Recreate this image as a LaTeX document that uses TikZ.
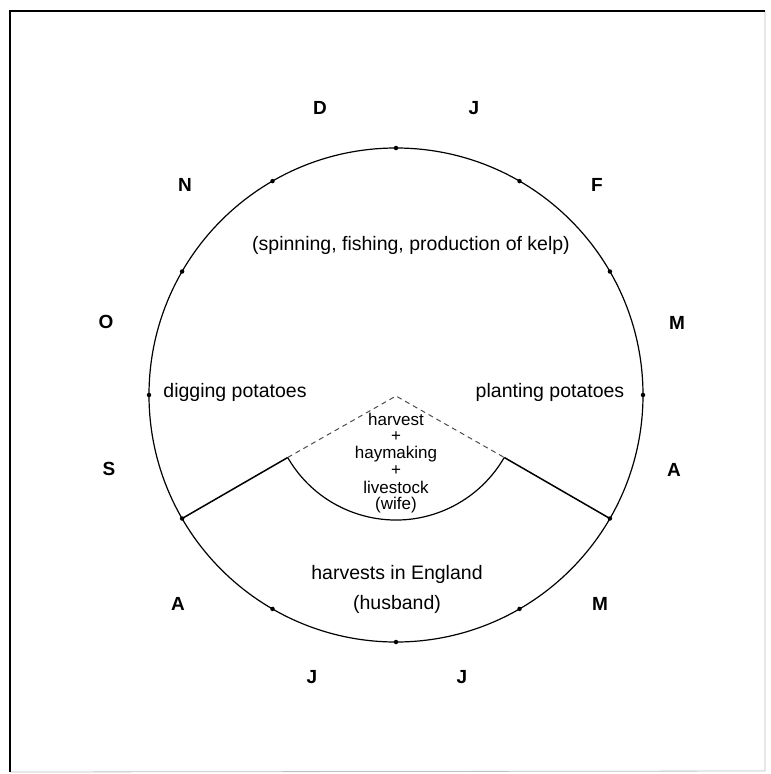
\documentclass[tikz,border=0pt]{standalone}
\usepackage{fontspec}
\setmainfont{Liberation Sans}
\begin{document}
\begin{tikzpicture}[x=1pt,y=-1pt,
  lbl/.style={inner sep=0pt, font=\fontsize{19.5}{21}\selectfont},
  stk/.style={inner sep=0pt, font=\fontsize{17}{18}\selectfont},
  mon/.style={inner sep=0pt, font=\fontsize{19}{21}\selectfont\bfseries},
  dotm/.style={circle, fill=black, inner sep=0pt, minimum size=4.5pt},
  rim/.style={line width=1.2pt},
  spoke/.style={line width=1.5pt},
  dsh/.style={line width=1pt, black!70, dash pattern=on 5pt off 4pt}]
\useasboundingbox (0,0) rectangle (771,774);
% frame
\coordinate (f1) at (10,772);
\coordinate (f2) at (10,11);
\coordinate (f3) at (765,11);
\coordinate (f4) at (765,771);
\draw[black!25, line width=0.8pt] (f3) -- (f4) -- (f1);
\draw[line width=2.4pt] (f1) -- (f2) -- (f3);
% circle
\coordinate (C) at (396,395);
\draw[rim] (C) circle[radius=247pt];
% month dots
\node[dotm] (d0) at (396,148) {};
\node[dotm] (d1) at (519.5,181.1) {};
\node[dotm] (d2) at (609.9,271.5) {};
\node[dotm] (d3) at (643,395) {};
\node[dotm] (d4) at (609.9,518.5) {};
\node[dotm] (d5) at (519.5,608.9) {};
\node[dotm] (d6) at (396,642) {};
\node[dotm] (d7) at (272.5,608.9) {};
\node[dotm] (d8) at (182.1,518.5) {};
\node[dotm] (d9) at (149,395) {};
\node[dotm] (d10) at (182.1,271.5) {};
\node[dotm] (d11) at (272.5,181.1) {};
% month labels
\node[mon] (mJan) at (474,108) {J};
\node[mon] (mFeb) at (597,185) {F};
\node[mon] (mMar) at (677,323) {M};
\node[mon] (mApr) at (674,470) {A};
\node[mon] (mMay) at (600,604) {M};
\node[mon] (mJun) at (462,677) {J};
\node[mon] (mJul) at (312,677) {J};
\node[mon] (mAug) at (178,604) {A};
\node[mon] (mSep) at (109,469) {S};
\node[mon] (mOct) at (106,322) {O};
\node[mon] (mNov) at (185,185) {N};
\node[mon] (mDec) at (320,108) {D};
% inner wedge
\coordinate (P1) at (287.7,457.5);
\coordinate (P2) at (504.3,457.5);
\coordinate (apex) at (396,396);
\draw[spoke] (d8.center) -- (P1);
\draw[spoke] (d4.center) -- (P2);
\draw[rim] (P1) arc[start angle=210, end angle=330, radius=125pt];
\draw[dsh] (P1) -- (apex) -- (P2);
% texts
\node[lbl] (kelp) at (411,245) {(spinning, fishing, production of kelp)};
\node[lbl] (dig) at (235,392) {digging potatoes};
\node[lbl] (plant) at (550,392) {planting potatoes};
\node[stk] (w1) at (396,419) {harvest};
\node[stk] (w2) at (396,437) {+};
\node[stk] (w3) at (396,454) {haymaking};
\node[stk] (w4) at (396,471) {+};
\node[stk] (w5) at (396,487) {livestock};
\node[stk] (w6) at (396,505) {(wife)};
\node[lbl] (eng) at (397,574) {harvests in England};
\node[lbl] (hus) at (397,604) {(husband)};
\end{tikzpicture}
\end{document}
